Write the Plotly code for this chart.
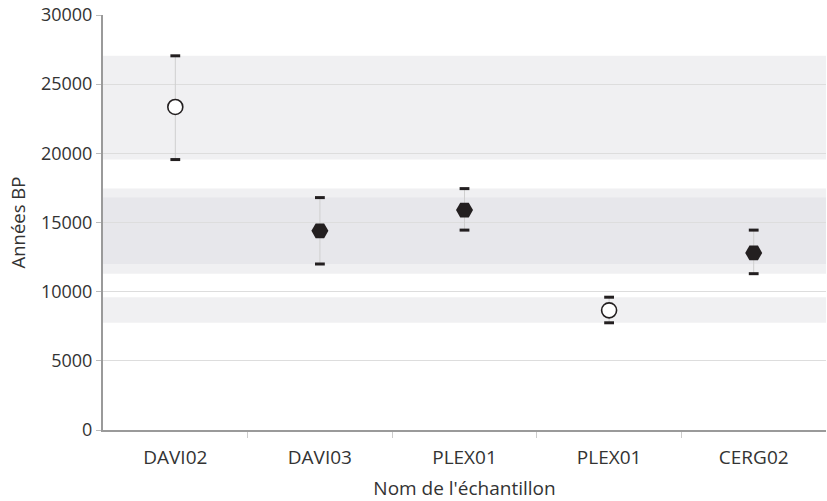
import plotly.graph_objects as go

labels = ["DAVI02", "DAVI03", "PLEX01", "PLEX01", "CERG02"]
ages = [23350, 14400, 15900, 8650, 12800]
low = [19550, 12000, 14450, 7750, 11300]
high = [27050, 16800, 17450, 9600, 14450]
filled = [False, True, True, False, True]

xs = list(range(len(labels)))
ink = "#231f20"

fig = go.Figure()

# shaded ranges
for lo, hi in zip(low, high):
    fig.add_shape(type="rect", xref="paper", x0=0, x1=1, yref="y", y0=lo, y1=hi,
                  fillcolor="rgba(220,220,224,0.43)", line_width=0, layer="below")

# error bar stems
fig.add_trace(go.Scatter(
    x=xs, y=ages, mode="markers", marker=dict(size=0.1, opacity=0),
    error_y=dict(type="data", symmetric=False,
                 array=[h - a for h, a in zip(high, ages)],
                 arrayminus=[a - l for a, l in zip(ages, low)],
                 color="#cfcfcf", thickness=1, width=0),
    showlegend=False, hoverinfo="skip"))

# caps
fig.add_trace(go.Scatter(
    x=xs + xs, y=high + low, mode="markers",
    marker=dict(symbol="line-ew", size=7, line=dict(width=3, color=ink)),
    showlegend=False, hoverinfo="skip"))

# open circles
ox = [x for x, f in zip(xs, filled) if not f]
oy = [a for a, f in zip(ages, filled) if not f]
fig.add_trace(go.Scatter(
    x=ox, y=oy, mode="markers",
    marker=dict(symbol="circle", size=15, color="white", line=dict(width=1.6, color=ink)),
    showlegend=False))

# filled hexagons
fx = [x for x, f in zip(xs, filled) if f]
fy = [a for a, f in zip(ages, filled) if f]
fig.add_trace(go.Scatter(
    x=fx, y=fy, mode="markers",
    marker=dict(symbol="hexagon2", size=17, color=ink, line=dict(width=0)),
    showlegend=False))

fig.update_layout(
    width=827, height=501,
    margin=dict(l=103, r=1, t=15, b=71, autoexpand=False),
    paper_bgcolor="white", plot_bgcolor="white",
    font=dict(family="Open Sans", color="#333333", size=18),
    xaxis=dict(
        range=[-0.5, len(labels) - 0.5],
        tickmode="array", tickvals=xs, ticktext=labels,
        ticks="", showgrid=False, zeroline=False,
        showline=True, linecolor="#9a9a9a", linewidth=2,
        tickfont=dict(size=19, color="#333333"),
        ticklabelstandoff=9,
        minor=dict(tickmode="array", tickvals=[x + 0.5 for x in xs[:-1]],
                   ticks="outside", ticklen=6, tickcolor="#cccccc", showgrid=False),
        title=dict(text="Nom de l'échantillon", font=dict(size=19), standoff=17),
        automargin=False,
    ),
    yaxis=dict(
        range=[0, 30000], tickmode="linear", tick0=0, dtick=5000, tickformat="d",
        showgrid=True, gridcolor="#dddddd", gridwidth=1, zeroline=False,
        showline=True, linecolor="#9a9a9a", linewidth=2,
        ticks="outside", ticklen=5, tickcolor="#bbbbbb",
        tickfont=dict(size=18, color="#333333"),
        title=dict(text="Années BP", font=dict(size=18.5), standoff=10),
        automargin=False,
    ),
)

fig.write_html("out.html", config={"displayModeBar": False},
               post_script="document.body.style.margin='0';document.body.style.overflow='hidden';")
